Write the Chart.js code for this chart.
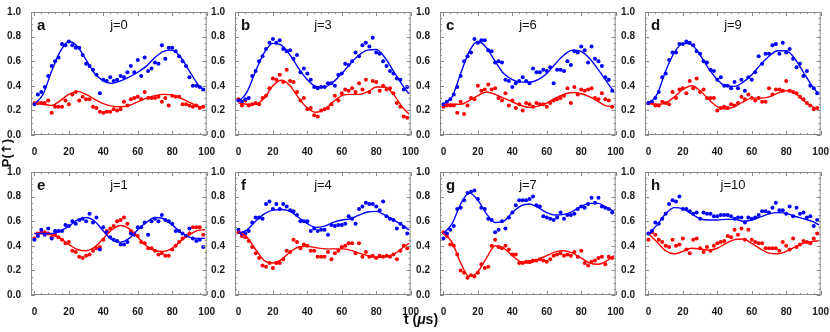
<!DOCTYPE html>
<html>
<head>
<meta charset="utf-8">
<script src="https://cdn.jsdelivr.net/npm/chart.js@4.4.1/dist/chart.umd.min.js"></script>
<style>
  body { margin: 0; background: #fff; }
  #wrap { position: relative; width: 830px; height: 332px; overflow: hidden; font-family: "Liberation Sans", Arial, sans-serif; color: #111; }
  #wrap canvas { position: absolute; }
  .letter { position: absolute; font-weight: bold; font-size: 15px; line-height: 1; }
  .jlab { position: absolute; font-size: 13px; line-height: 1; transform: translateX(-50%); }
  .axt { position: absolute; font-weight: bold; font-size: 13px; line-height: 1; white-space: nowrap; }
  .arr { font-family: "DejaVu Sans", sans-serif; font-weight: bold; }
</style>
</head>
<body>
<div id="wrap"></div>
<script>
// measurement times (us) and times where the fit curves are sampled
const times = [0,2,4,6,8,10,12,14,16,18,20,22,24,26,28,30,32,34,36,38,40,42,44,46,48,
  50,52,54,56,58,60,62,64,66,68,70,72,74,76,78,80,82,84,86,88,90,92,94,96,98];
const fitTimes = [0,5,10,15,20,25,30,35,40,45,50,55,60,65,70,75,80,85,90,95,99];
const xTicks = [0,20,40,60,80,100];
const yTicks = [0,0.2,0.4,0.6,0.8,1.0];

// a, j=0
const blueA = [0.25,0.33,0.35,0.39,0.48,0.56,0.60,0.63,0.74,0.73,0.76,0.73,0.71,0.71,0.65,0.58,0.56,0.53,0.49,0.34,
  0.45,0.44,0.47,0.44,0.45,0.48,0.47,0.51,0.56,0.51,0.61,0.48,0.63,0.52,0.54,0.59,0.58,0.73,0.62,0.71,
  0.71,0.68,0.64,0.60,0.56,0.47,0.40,0.40,0.39,0.37];
const redA = [0.26,0.26,0.26,0.26,0.28,0.18,0.23,0.23,0.23,0.28,0.25,0.33,0.35,0.28,0.31,0.29,0.29,0.23,0.22,0.19,
  0.18,0.19,0.19,0.21,0.20,0.21,0.27,0.24,0.29,0.30,0.31,0.29,0.35,0.30,0.30,0.30,0.31,0.27,0.30,0.24,
  0.32,0.31,0.31,0.25,0.25,0.24,0.23,0.24,0.22,0.23];
const fitBlueA = [0.25,0.33,0.52,0.68,0.76,0.72,0.61,0.50,0.44,0.42,0.44,0.47,0.51,0.56,0.63,0.68,0.69,0.63,0.52,0.41,0.36];
const fitRedA = [0.26,0.25,0.24,0.28,0.33,0.355,0.33,0.29,0.255,0.235,0.23,0.24,0.27,0.30,0.32,0.33,0.325,0.30,0.265,0.235,0.225];

// b, j=3
const blueB = [0.28,0.27,0.29,0.30,0.48,0.52,0.60,0.64,0.70,0.75,0.78,0.75,0.77,0.70,0.68,0.69,0.62,0.65,0.51,0.54,
  0.50,0.45,0.39,0.38,0.39,0.39,0.42,0.42,0.40,0.49,0.50,0.58,0.57,0.60,0.67,0.64,0.73,0.75,0.72,0.79,
  0.67,0.66,0.60,0.56,0.52,0.50,0.46,0.45,0.37,0.39];
const redB = [0.29,0.24,0.28,0.24,0.25,0.26,0.25,0.30,0.32,0.38,0.46,0.45,0.49,0.43,0.53,0.44,0.43,0.35,0.28,0.30,
  0.21,0.22,0.16,0.15,0.20,0.21,0.22,0.25,0.32,0.28,0.34,0.37,0.36,0.38,0.35,0.42,0.37,0.45,0.35,0.44,
  0.43,0.36,0.40,0.37,0.38,0.34,0.26,0.23,0.15,0.14];
const fitBlueB = [0.27,0.35,0.52,0.67,0.745,0.73,0.65,0.54,0.45,0.395,0.39,0.43,0.50,0.58,0.65,0.69,0.695,0.63,0.52,0.41,0.335];
const fitRedB = [0.26,0.25,0.25,0.30,0.40,0.445,0.40,0.30,0.22,0.185,0.21,0.27,0.32,0.33,0.33,0.35,0.39,0.39,0.33,0.23,0.17];

// c, j=6
const blueC = [0.25,0.27,0.29,0.33,0.39,0.48,0.60,0.64,0.67,0.78,0.75,0.77,0.77,0.69,0.68,0.59,0.60,0.59,0.45,0.44,
  0.39,0.42,0.44,0.47,0.44,0.42,0.54,0.51,0.51,0.53,0.52,0.55,0.42,0.53,0.53,0.52,0.60,0.57,0.68,0.67,
  0.72,0.69,0.59,0.72,0.62,0.60,0.56,0.47,0.45,0.36];
const redC = [0.23,0.24,0.24,0.24,0.18,0.27,0.17,0.24,0.30,0.29,0.40,0.36,0.37,0.41,0.37,0.38,0.30,0.28,0.34,0.24,
  0.28,0.22,0.25,0.20,0.26,0.25,0.23,0.26,0.25,0.25,0.23,0.26,0.28,0.29,0.30,0.32,0.38,0.26,0.39,0.33,
  0.37,0.36,0.37,0.38,0.30,0.29,0.34,0.29,0.28,0.23];
const fitBlueC = [0.25,0.31,0.50,0.68,0.76,0.71,0.60,0.50,0.45,0.43,0.43,0.45,0.50,0.58,0.65,0.69,0.68,0.62,0.53,0.43,0.35];
const fitRedC = [0.25,0.25,0.25,0.28,0.32,0.35,0.33,0.30,0.27,0.24,0.225,0.235,0.26,0.30,0.33,0.345,0.335,0.31,0.27,0.235,0.23];

// d, j=9
const blueD = [0.26,0.27,0.30,0.35,0.47,0.50,0.61,0.67,0.67,0.74,0.74,0.76,0.75,0.73,0.68,0.66,0.60,0.59,0.53,0.52,
  0.45,0.47,0.40,0.40,0.38,0.43,0.38,0.45,0.36,0.47,0.45,0.51,0.64,0.58,0.66,0.66,0.73,0.74,0.66,0.75,
  0.67,0.70,0.62,0.55,0.58,0.48,0.52,0.40,0.38,0.34];
const redD = [0.26,0.26,0.24,0.24,0.27,0.26,0.25,0.35,0.30,0.37,0.38,0.34,0.44,0.38,0.46,0.35,0.37,0.30,0.30,0.30,
  0.20,0.22,0.23,0.22,0.25,0.24,0.26,0.31,0.29,0.33,0.30,0.28,0.30,0.27,0.27,0.38,0.33,0.37,0.37,0.36,
  0.44,0.36,0.35,0.34,0.31,0.29,0.26,0.24,0.21,0.22];
const fitBlueD = [0.25,0.33,0.52,0.67,0.745,0.735,0.65,0.54,0.45,0.40,0.395,0.43,0.49,0.57,0.64,0.685,0.685,0.62,0.51,0.40,0.33];
const fitRedD = [0.26,0.25,0.26,0.31,0.37,0.40,0.36,0.29,0.23,0.21,0.23,0.27,0.30,0.30,0.31,0.34,0.36,0.34,0.28,0.23,0.21];

// e, j=1
const blueE = [0.45,0.48,0.53,0.49,0.54,0.46,0.52,0.52,0.52,0.57,0.56,0.60,0.58,0.61,0.62,0.60,0.66,0.59,0.63,0.37,
  0.55,0.51,0.47,0.45,0.44,0.41,0.41,0.43,0.50,0.49,0.55,0.55,0.59,0.49,0.60,0.62,0.60,0.65,0.61,0.60,
  0.58,0.52,0.52,0.50,0.48,0.54,0.46,0.44,0.45,0.39];
const redE = [0.46,0.50,0.51,0.51,0.50,0.47,0.49,0.47,0.45,0.42,0.43,0.36,0.35,0.31,0.30,0.32,0.33,0.36,0.38,0.39,
  0.45,0.52,0.54,0.56,0.60,0.61,0.63,0.58,0.52,0.50,0.48,0.43,0.42,0.38,0.38,0.36,0.33,0.34,0.32,0.32,
  0.37,0.40,0.43,0.46,0.48,0.50,0.55,0.55,0.55,0.49];
const fitBlueE = [0.50,0.50,0.50,0.52,0.56,0.61,0.63,0.60,0.52,0.45,0.43,0.46,0.53,0.59,0.63,0.62,0.57,0.51,0.47,0.46,0.46];
const fitRedE = [0.50,0.50,0.49,0.46,0.41,0.37,0.36,0.39,0.46,0.53,0.565,0.54,0.47,0.40,0.36,0.355,0.38,0.44,0.49,0.525,0.53];

// f, j=4
const blueF = [0.53,0.50,0.50,0.52,0.59,0.63,0.63,0.62,0.74,0.76,0.70,0.74,0.70,0.74,0.72,0.69,0.68,0.65,0.60,0.60,
  0.60,0.52,0.54,0.52,0.53,0.53,0.49,0.57,0.56,0.57,0.57,0.58,0.64,0.62,0.58,0.70,0.72,0.75,0.74,0.74,
  0.72,0.69,0.76,0.64,0.62,0.61,0.54,0.58,0.55,0.50];
const redF = [0.51,0.48,0.47,0.44,0.39,0.34,0.30,0.24,0.23,0.26,0.22,0.26,0.26,0.29,0.36,0.35,0.45,0.43,0.38,0.41,
  0.40,0.36,0.36,0.31,0.31,0.31,0.35,0.29,0.34,0.36,0.39,0.40,0.42,0.42,0.34,0.42,0.31,0.35,0.31,0.32,
  0.30,0.32,0.31,0.32,0.31,0.33,0.29,0.36,0.40,0.38];
const fitBlueF = [0.50,0.53,0.60,0.66,0.69,0.695,0.68,0.63,0.58,0.55,0.56,0.59,0.61,0.62,0.65,0.675,0.68,0.65,0.61,0.57,0.53];
const fitRedF = [0.52,0.47,0.37,0.28,0.26,0.29,0.35,0.39,0.395,0.385,0.375,0.375,0.375,0.365,0.34,0.32,0.305,0.31,0.33,0.38,0.42];

// g, j=7
const blueG = [0.46,0.50,0.53,0.56,0.70,0.71,0.77,0.83,0.84,0.85,0.78,0.71,0.70,0.62,0.61,0.51,0.53,0.60,0.54,0.63,
  0.67,0.73,0.77,0.77,0.77,0.78,0.80,0.73,0.72,0.64,0.63,0.62,0.61,0.63,0.67,0.62,0.65,0.65,0.66,0.70,
  0.72,0.71,0.74,0.79,0.75,0.79,0.72,0.71,0.70,0.67];
const redG = [0.51,0.48,0.41,0.40,0.33,0.20,0.18,0.14,0.16,0.15,0.18,0.25,0.22,0.23,0.40,0.45,0.39,0.38,0.40,0.37,
  0.33,0.33,0.26,0.26,0.27,0.27,0.28,0.28,0.29,0.28,0.27,0.29,0.32,0.33,0.34,0.32,0.33,0.32,0.35,0.31,
  0.36,0.26,0.24,0.27,0.28,0.30,0.31,0.25,0.31,0.30];
const fitBlueG = [0.50,0.58,0.74,0.83,0.77,0.66,0.59,0.60,0.67,0.725,0.74,0.71,0.67,0.65,0.655,0.68,0.72,0.745,0.745,0.71,0.68];
const fitRedG = [0.50,0.43,0.26,0.15,0.19,0.30,0.40,0.38,0.32,0.27,0.26,0.29,0.32,0.35,0.36,0.34,0.30,0.26,0.25,0.28,0.32];

// h, j=10
const blueH = [0.50,0.52,0.59,0.58,0.62,0.66,0.74,0.77,0.76,0.80,0.70,0.70,0.68,0.66,0.67,0.62,0.67,0.66,0.66,0.64,
  0.64,0.65,0.65,0.65,0.64,0.62,0.63,0.63,0.59,0.63,0.62,0.63,0.65,0.68,0.68,0.67,0.71,0.75,0.69,0.69,
  0.66,0.72,0.64,0.71,0.66,0.67,0.63,0.64,0.56,0.61];
const redH = [0.45,0.51,0.49,0.45,0.43,0.40,0.39,0.45,0.40,0.41,0.46,0.37,0.34,0.45,0.46,0.38,0.35,0.39,0.36,0.40,
  0.42,0.43,0.44,0.48,0.47,0.53,0.49,0.54,0.45,0.53,0.45,0.43,0.42,0.42,0.38,0.38,0.38,0.38,0.36,0.43,
  0.40,0.37,0.46,0.39,0.41,0.44,0.43,0.42,0.46,0.50];
const fitBlueH = [0.49,0.57,0.66,0.71,0.70,0.66,0.62,0.61,0.61,0.615,0.615,0.60,0.61,0.635,0.66,0.67,0.665,0.64,0.62,0.60,0.57];
const fitRedH = [0.50,0.43,0.36,0.335,0.355,0.38,0.375,0.365,0.38,0.42,0.45,0.455,0.42,0.375,0.34,0.335,0.355,0.39,0.42,0.435,0.44];

const BLUE = "#0000ff";
const RED = "#ff0000";

const panels = [
  { L: 31,  T: 12,  letter: "a", j: "j=0",  blue: blueA, red: redA, fb: fitBlueA, fr: fitRedA },
  { L: 235, T: 12,  letter: "b", j: "j=3",  blue: blueB, red: redB, fb: fitBlueB, fr: fitRedB },
  { L: 440, T: 12,  letter: "c", j: "j=6",  blue: blueC, red: redC, fb: fitBlueC, fr: fitRedC },
  { L: 645, T: 12,  letter: "d", j: "j=9",  blue: blueD, red: redD, fb: fitBlueD, fr: fitRedD },
  { L: 31,  T: 172, letter: "e", j: "j=1",  blue: blueE, red: redE, fb: fitBlueE, fr: fitRedE },
  { L: 235, T: 172, letter: "f", j: "j=4",  blue: blueF, red: redF, fb: fitBlueF, fr: fitRedF },
  { L: 440, T: 172, letter: "g", j: "j=7",  blue: blueG, red: redG, fb: fitBlueG, fr: fitRedG },
  { L: 645, T: 172, letter: "h", j: "j=10", blue: blueH, red: redH, fb: fitBlueH, fr: fitRedH },
];

const W = 177, H = 123;     // frame size
const PADL = 32, PADT = 10, PADR = 10, PADB = 20;

// frame with inward ticks on all four sides, like the original
const frameTicks = {
  id: "frameTicks",
  afterDraw(chart) {
    const { ctx, chartArea: a, scales } = chart;
    const x = scales.x, y = scales.y;
    ctx.save();
    ctx.strokeStyle = "#8a8a8a";
    ctx.lineWidth = 1;
    ctx.strokeRect(a.left + 0.5, a.top + 0.5, a.right - a.left - 1, a.bottom - a.top - 1);
    ctx.beginPath();
    for (let v = 0; v <= 100; v += 4) {
      const px = Math.round(x.getPixelForValue(v)) + 0.5;
      const len = v % 20 === 0 ? 4 : 2;
      ctx.moveTo(px, a.bottom); ctx.lineTo(px, a.bottom - len);
      ctx.moveTo(px, a.top); ctx.lineTo(px, a.top + len);
    }
    for (let k = 0; k <= 20; k++) {
      const py = Math.round(y.getPixelForValue(k * 0.05)) + 0.5;
      const len = k % 4 === 0 ? 4 : 2;
      ctx.moveTo(a.left, py); ctx.lineTo(a.left + len, py);
      ctx.moveTo(a.right, py); ctx.lineTo(a.right - len, py);
    }
    ctx.stroke();
    ctx.restore();
  }
};

const tickFont = { family: "'Liberation Sans', Arial, sans-serif", size: 10, weight: "bold" };
const wrap = document.getElementById("wrap");

function pts(xs, ys) {
  return ys.map((v, i) => ({ x: xs[i], y: v }));
}

panels.forEach(p => {
  const cv = document.createElement("canvas");
  cv.width = W + PADL + PADR;
  cv.height = H + PADT + PADB;
  cv.style.left = (p.L - PADL) + "px";
  cv.style.top = (p.T - PADT) + "px";
  wrap.appendChild(cv);

  new Chart(cv, {
    type: "scatter",
    data: {
      datasets: [
        { data: pts(fitTimes, p.fb), showLine: true, borderColor: BLUE, borderWidth: 1.4,
          pointRadius: 0, cubicInterpolationMode: "monotone" },
        { data: pts(fitTimes, p.fr), showLine: true, borderColor: RED, borderWidth: 1.4,
          pointRadius: 0, cubicInterpolationMode: "monotone" },
        { data: pts(times, p.blue), backgroundColor: BLUE, borderWidth: 0, pointRadius: 2 },
        { data: pts(times, p.red), backgroundColor: RED, borderWidth: 0, pointRadius: 2 },
      ]
    },
    options: {
      responsive: false,
      animation: false,
      layout: { padding: { top: PADT, right: PADR, left: 0, bottom: 0 }, autoPadding: false },
      plugins: { legend: { display: false }, tooltip: { enabled: false } },
      scales: {
        x: {
          type: "linear", min: -2, max: 100,
          afterBuildTicks: s => { s.ticks = xTicks.map(v => ({ value: v })); },
          afterFit: s => { s.height = PADB; },
          grid: { display: false }, border: { display: false },
          ticks: { font: tickFont, color: "#1a1a1a", padding: 3, maxRotation: 0, autoSkip: false }
        },
        y: {
          min: 0, max: 1,
          afterBuildTicks: s => { s.ticks = yTicks.map(v => ({ value: v })); },
          afterFit: s => { s.width = PADL; },
          grid: { display: false }, border: { display: false },
          ticks: { font: tickFont, color: "#1a1a1a", padding: 2, callback: v => v.toFixed(1) }
        }
      }
    },
    plugins: [frameTicks]
  });

  const lt = document.createElement("div");
  lt.className = "letter";
  lt.textContent = p.letter;
  lt.style.left = (p.L + 6) + "px";
  lt.style.top = (p.T + 5) + "px";
  wrap.appendChild(lt);

  const jl = document.createElement("div");
  jl.className = "jlab";
  jl.textContent = p.j;
  jl.style.left = (p.L + 88) + "px";
  jl.style.top = (p.T + 6) + "px";
  wrap.appendChild(jl);
});

const yt = document.createElement("div");
yt.className = "axt";
yt.innerHTML = "P(<span class=\"arr\">&#8593;</span>)";
yt.style.left = "6px";
yt.style.top = "153px";
yt.style.transform = "translate(-50%,-50%) rotate(-90deg)";
wrap.appendChild(yt);

const xt = document.createElement("div");
xt.className = "axt";
xt.style.fontSize = "14px";
xt.innerHTML = "t (<i>&mu;</i>s)";
xt.style.left = "421px";
xt.style.top = "319px";
xt.style.transform = "translate(-50%,-50%)";
wrap.appendChild(xt);
</script>
</body>
</html>
